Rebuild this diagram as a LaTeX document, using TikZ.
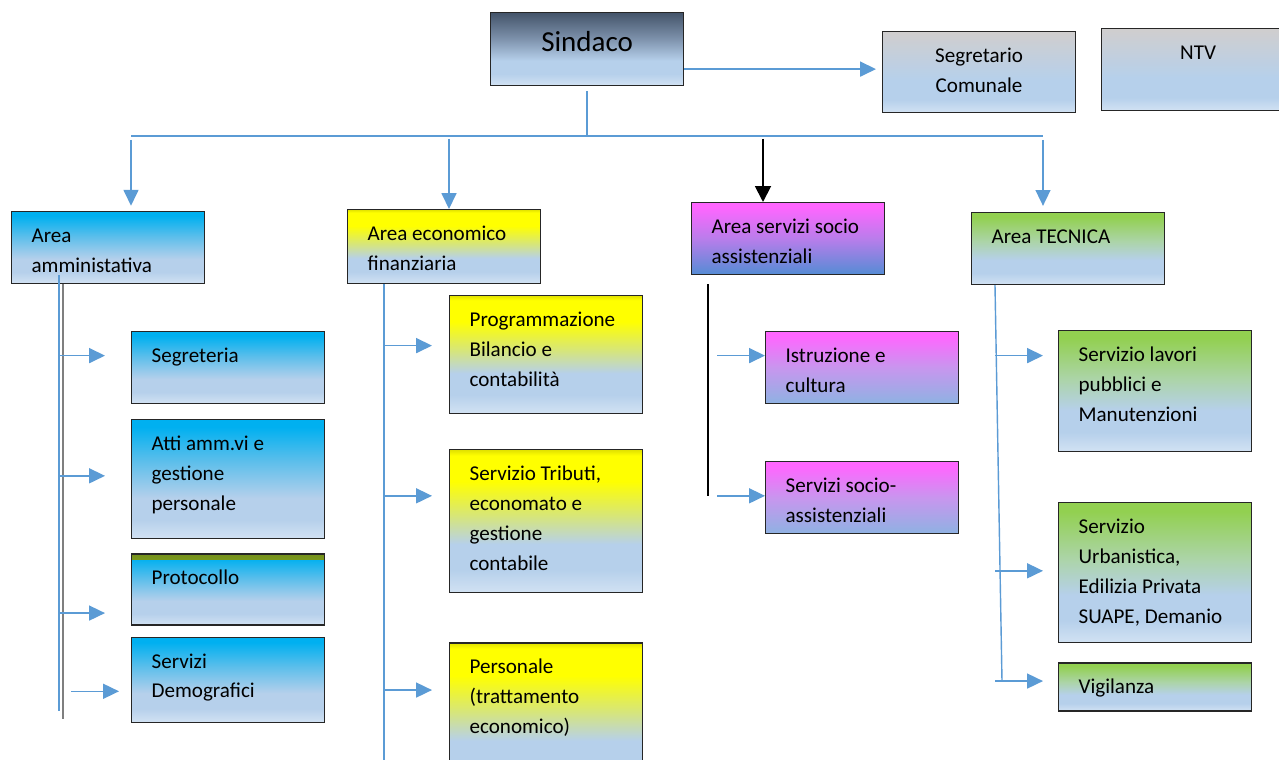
\documentclass[tikz,border=0pt]{standalone}
\usepackage{fontspec}
\setmainfont{Carlito}
\usetikzlibrary{positioning,arrows.meta,calc}

\definecolor{lineblue}{RGB}{91,155,213}
\definecolor{linegrey}{RGB}{127,127,127}
\definecolor{lightblue}{RGB}{182,208,235}
\definecolor{paleblue}{RGB}{210,226,243}
\definecolor{sindtop}{RGB}{68,84,106}
\definecolor{sindmid}{RGB}{122,142,168}
\definecolor{greytop}{RGB}{208,206,206}
\definecolor{cyantop}{RGB}{0,176,240}
\definecolor{cyanmid}{RGB}{90,190,235}
\definecolor{yeltop}{RGB}{225,225,0}
\definecolor{yelfull}{RGB}{255,255,0}
\definecolor{yelmid}{RGB}{215,230,120}
\definecolor{magtop}{RGB}{255,102,255}
\definecolor{magmid}{RGB}{185,125,235}
\definecolor{magbot}{RGB}{84,140,212}
\definecolor{magmidb}{RGB}{200,150,238}
\definecolor{magbotb}{RGB}{142,178,226}
\definecolor{greentop}{RGB}{146,208,80}
\definecolor{greenmid}{RGB}{172,212,168}
\definecolor{protgreen}{RGB}{165,205,40}

\pgfdeclareverticalshading{sindshade}{100bp}{color(0bp)=(paleblue); color(25bp)=(paleblue); color(33bp)=(lightblue); color(42bp)=(lightblue); color(58bp)=(sindmid); color(75bp)=(sindtop); color(100bp)=(sindtop)}
\pgfdeclareverticalshading{greyshade}{100bp}{color(0bp)=(paleblue); color(25bp)=(paleblue); color(33bp)=(lightblue); color(45bp)=(lightblue); color(75bp)=(greytop); color(100bp)=(greytop)}
\pgfdeclareverticalshading{cyanshade}{100bp}{color(0bp)=(paleblue); color(25bp)=(paleblue); color(33bp)=(lightblue); color(42bp)=(lightblue); color(58bp)=(cyanmid); color(72bp)=(cyantop); color(100bp)=(cyantop)}
\pgfdeclareverticalshading{yelshade}{100bp}{color(0bp)=(paleblue); color(25bp)=(paleblue); color(33bp)=(lightblue); color(42bp)=(lightblue); color(52bp)=(yelmid); color(64bp)=(yelfull); color(73bp)=(yelfull); color(75bp)=(yeltop); color(100bp)=(yeltop)}
\pgfdeclareverticalshading{magshade}{100bp}{color(0bp)=(magbot); color(25bp)=(magbot); color(50bp)=(magmid); color(72bp)=(magtop); color(100bp)=(magtop)}
\pgfdeclareverticalshading{magshadeb}{100bp}{color(0bp)=(magbotb); color(25bp)=(magbotb); color(50bp)=(magmidb); color(72bp)=(magtop); color(100bp)=(magtop)}
\pgfdeclareverticalshading{greenshade}{100bp}{color(0bp)=(paleblue); color(25bp)=(paleblue); color(33bp)=(lightblue); color(42bp)=(lightblue); color(55bp)=(greenmid); color(72bp)=(greentop); color(100bp)=(greentop)}

\newlength{\pxl}
\setlength{\pxl}{0.02cm}
\newcommand{\boxtxt}[3][\raggedright]{\parbox[c][#2\pxl][t]{3.06cm}{#1\vspace*{5.6pt}\strut #3}}

\begin{document}
\begin{tikzpicture}[x=0.02cm, y=-0.02cm] %Organigramma comunale
    \tikzstyle{orgbox} = [draw=black!85, line width=0.7pt, inner xsep=0.4cm, inner ysep=0pt, anchor=north west, shade, font=\fontsize{12}{17}\selectfont]
    \tikzstyle{greybox} = [orgbox, shading=greyshade]
    \tikzstyle{cyanbox} = [orgbox, shading=cyanshade]
    \tikzstyle{yelbox} = [orgbox, shading=yelshade]
    \tikzstyle{magbox} = [orgbox, shading=magshade]
    \tikzstyle{magsub} = [orgbox, shading=magshadeb]
    \tikzstyle{greenbox} = [orgbox, shading=greenshade]
    \tikzstyle{link} = [lineblue, line width=0.8pt]
    \tikzstyle{linkarrow} = [link, -{Triangle[length=9pt,width=8.5pt]}]
    \useasboundingbox[fill=white] (0,0) rectangle (1279,760);

    \node[orgbox, shading=sindshade, font=\fontsize{16.5}{24}\selectfont] (sind) at (490,12) {\boxtxt[\centering]{73}{Sindaco}};
    \node[greybox] (segr) at (882,31) {\boxtxt[\centering]{81}{Segretario\\Comunale}};
    \node[greybox] (ntv) at (1101,28) {\boxtxt[\centering]{82}{NTV}};

    \node[cyanbox] (amm) at (11,211) {\boxtxt{72}{Area\\amministativa}};
    \node[yelbox] (eco) at (347,209) {\boxtxt{74}{Area economico\\finanziaria}};
    \node[magbox] (soc) at (691,202) {\boxtxt{72}{Area servizi socio\\assistenziali}};
    \node[greenbox] (tec) at (971,212) {\boxtxt{72}{Area TECNICA}};

    \node[cyanbox] (seg) at (131,331) {\boxtxt{72}{Segreteria}};
    \node[cyanbox, below=0.3cm of seg] (atti) {\boxtxt{119}{Atti amm.vi e\\gestione\\personale}};
    \node[cyanbox, below=0.28cm of atti, path picture={\fill[top color=protgreen!70!black, bottom color=cyantop, middle color=protgreen] (path picture bounding box.north west) rectangle ([yshift=-3pt]path picture bounding box.north east);}] (prot) {\boxtxt{71}{Protocollo}};
    \node[cyanbox, below=0.22cm of prot] (demo) {\boxtxt{85}{Servizi\\Demografici}};

    \node[yelbox] (prog) at (449,295) {\boxtxt{118}{Programmazione\\Bilancio e\\contabilità}};
    \node[yelbox, below=0.7cm of prog] (trib) {\boxtxt{143}{Servizio Tributi,\\economato e\\gestione\\contabile}};
    \node[yelbox, below=0.98cm of trib] (pers) {\boxtxt{148}{Personale\\(trattamento\\economico)}};

    \node[magsub] (istr) at (765,331) {\boxtxt{72}{Istruzione e\\cultura}};
    \node[magsub, below=1.14cm of istr] (ssoc) {\boxtxt{72}{Servizi socio-\\assistenziali}};

    \node[greenbox] (lav) at (1058,330) {\boxtxt{121}{Servizio lavori\\pubblici e\\Manutenzioni}};
    \node[greenbox, below=1cm of lav] (urb) {\boxtxt{140}{Servizio\\Urbanistica,\\Edilizia Privata\\SUAPE, Demanio}};
    \node[greenbox, below=0.38cm of urb] (vig) {\boxtxt{48}{Vigilanza}};

    \draw[linkarrow, shorten >=0.12cm] ($(sind.east)+(0,20)$) -- ($(segr.west)+(0,-3)$);
    \coordinate (busW) at (131,136);
    \coordinate (busE) at (1043,136);
    \draw[link] (busW) -- (busE);
    \draw[link] ($(sind.south)+(0,5)$) -- (sind.south |- busW);
    \coordinate (d1) at (131,140);
    \coordinate (d2) at (449,139);
    \coordinate (d3) at (763,139);
    \coordinate (d4) at (1043,140);
    \foreach \d/\a/\s in {d1/amm/3pt, d2/eco/0pt, d4/tec/3.5pt}
    {
        \draw[linkarrow, shorten >=\s] (\d) -- (\d |- \a.north);
    }
    \draw[line width=1.1pt, -{Triangle[length=9pt,width=9pt]}] (d3) -- (d3 |- soc.north);

    \draw[link] ($(amm.south west)+(48,-9)$) -- ++(0,436);
    \draw[linegrey, line width=1.2pt] ($(amm.south west)+(52,0)$) -- ++(0,435);
    \foreach \b/\dy in {seg/-12, atti/-3.5, prot/23.5}
    {
        \draw[linkarrow] ($(\b.west)+(-72,\dy)$) -- ($(\b.west)+(-26,\dy)$);
    }
    \draw[linkarrow] ($(demo.west)+(-60,11.5)$) -- ($(demo.west)+(-12,11.5)$);

    \draw[link] ($(eco.south west)+(37,0)$) -- ++(0,480);
    \foreach \b/\dy in {prog/-9, trib/-25.5, pers/-27}
    {
        \draw[linkarrow] ($(\b.west)+(-65,\dy)$) -- ($(\b.west)+(-17,\dy)$);
    }

    \draw[line width=1.1pt] ($(soc.south west)+(17,9)$) -- ++(0,212);
    \foreach \b/\dy in {istr/-12, ssoc/-2}
    {
        \draw[linkarrow] ($(\b.west)+(-48,\dy)$) -- ($(\b.west)+(0,\dy)$);
    }

    \draw[link] ($(tec.south west)+(24,0)$) -- ($(vig.west)+(-56,-6)$);
    \foreach \b/\dy in {lav/-35.5, urb/-2, vig/-6}
    {
        \draw[linkarrow] ($(\b.west)+(-63,\dy)$) -- ($(\b.west)+(-15,\dy)$);
    }
\end{tikzpicture}
\end{document}
